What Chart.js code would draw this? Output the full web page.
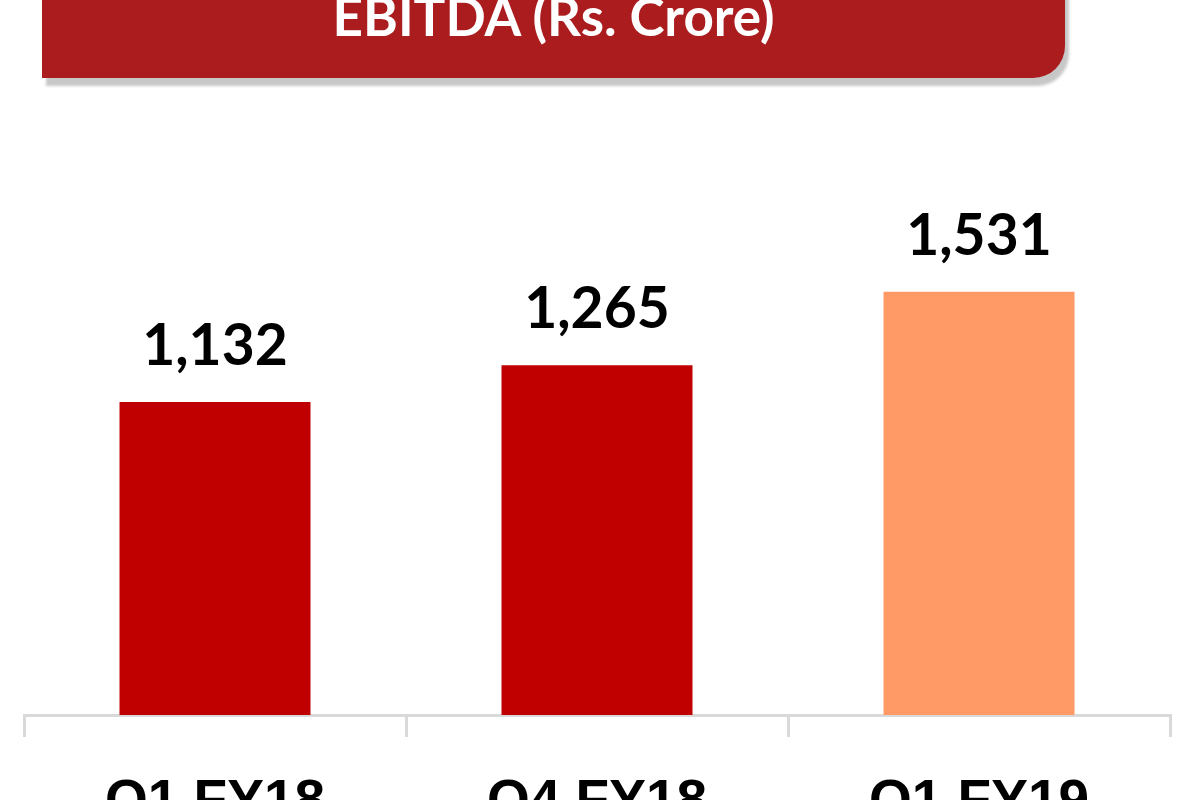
<!DOCTYPE html>
<html>
<head>
<meta charset="utf-8">
<script src="https://cdn.jsdelivr.net/npm/chart.js@4"></script>
<style>
    html, body { margin: 0; padding: 0; background: #fff; overflow: hidden; }
    body { width: 1200px; height: 800px; position: relative; }
    .banner {
        position: absolute; left: 42px; top: -40px; width: 1023px; height: 118px;
        background: #aa1c1e; border-bottom-right-radius: 32px;
        box-shadow: 4px 8px 3px rgba(0, 0, 0, 0.22);
        z-index: 2;
    }
    .banner h1 {
        position: absolute; left: 0; right: 0; bottom: 36px; margin: 0;
        text-align: center; color: #fff; font: bold 53px 'Lato', sans-serif;
        line-height: 1;
    }
    .chart-wrap { position: absolute; left: 0; top: 0; width: 1200px; height: 869px; }
</style>
</head>
<body>
<div class="banner"><h1>EBITDA (Rs. Crore)</h1></div>
<div class="chart-wrap"><canvas id="ebitdaChart"></canvas></div>
<script>
/* ── data ── */
const quarters = ['Q1 FY18', 'Q4 FY18', 'Q1 FY19'];
const ebitda = [1132, 1265, 1531];
const barColors = ['#c00000', '#c00000', '#ff9966'];

const AXIS_GREY = '#d9d9d9';

// value labels above each bar, placed from the bar elements
const valueLabels = {
    id: 'valueLabels',
    afterDatasetsDraw(chart) {
        const { ctx } = chart;
        const meta = chart.getDatasetMeta(0);
        ctx.save();
        ctx.font = 'bold 57px Lato, sans-serif';
        ctx.fillStyle = '#000';
        ctx.textAlign = 'center';
        ctx.textBaseline = 'alphabetic';
        meta.data.forEach((bar, i) => {
            ctx.fillText(ebitda[i].toLocaleString('en-IN'), bar.x, bar.y - 37);
        });
        ctx.restore();
    }
};

new Chart(document.getElementById('ebitdaChart'), {
    type: 'bar',
    data: {
        labels: quarters,
        datasets: [{
            data: ebitda,
            backgroundColor: barColors,
            barPercentage: 0.5,
            categoryPercentage: 1.0
        }]
    },
    options: {
        responsive: true,
        maintainAspectRatio: false,
        animation: false,
        layout: { padding: { left: 24, right: 30, top: 162, bottom: 0 } },
        plugins: { legend: { display: false }, tooltip: { enabled: false } },
        scales: {
            y: { display: false, min: 0, max: 2000 },
            x: {
                border: { display: true, color: AXIS_GREY, width: 3 },
                grid: {
                    offset: true,
                    drawOnChartArea: false,
                    drawTicks: true,
                    tickLength: 22,
                    tickColor: AXIS_GREY,
                    lineWidth: 3
                },
                ticks: {
                    color: '#000',
                    padding: 33,
                    font: { family: "'Liberation Sans', Arial, sans-serif", size: 55, weight: 'bold' }
                }
            }
        }
    },
    plugins: [valueLabels]
});
</script>
</body>
</html>
